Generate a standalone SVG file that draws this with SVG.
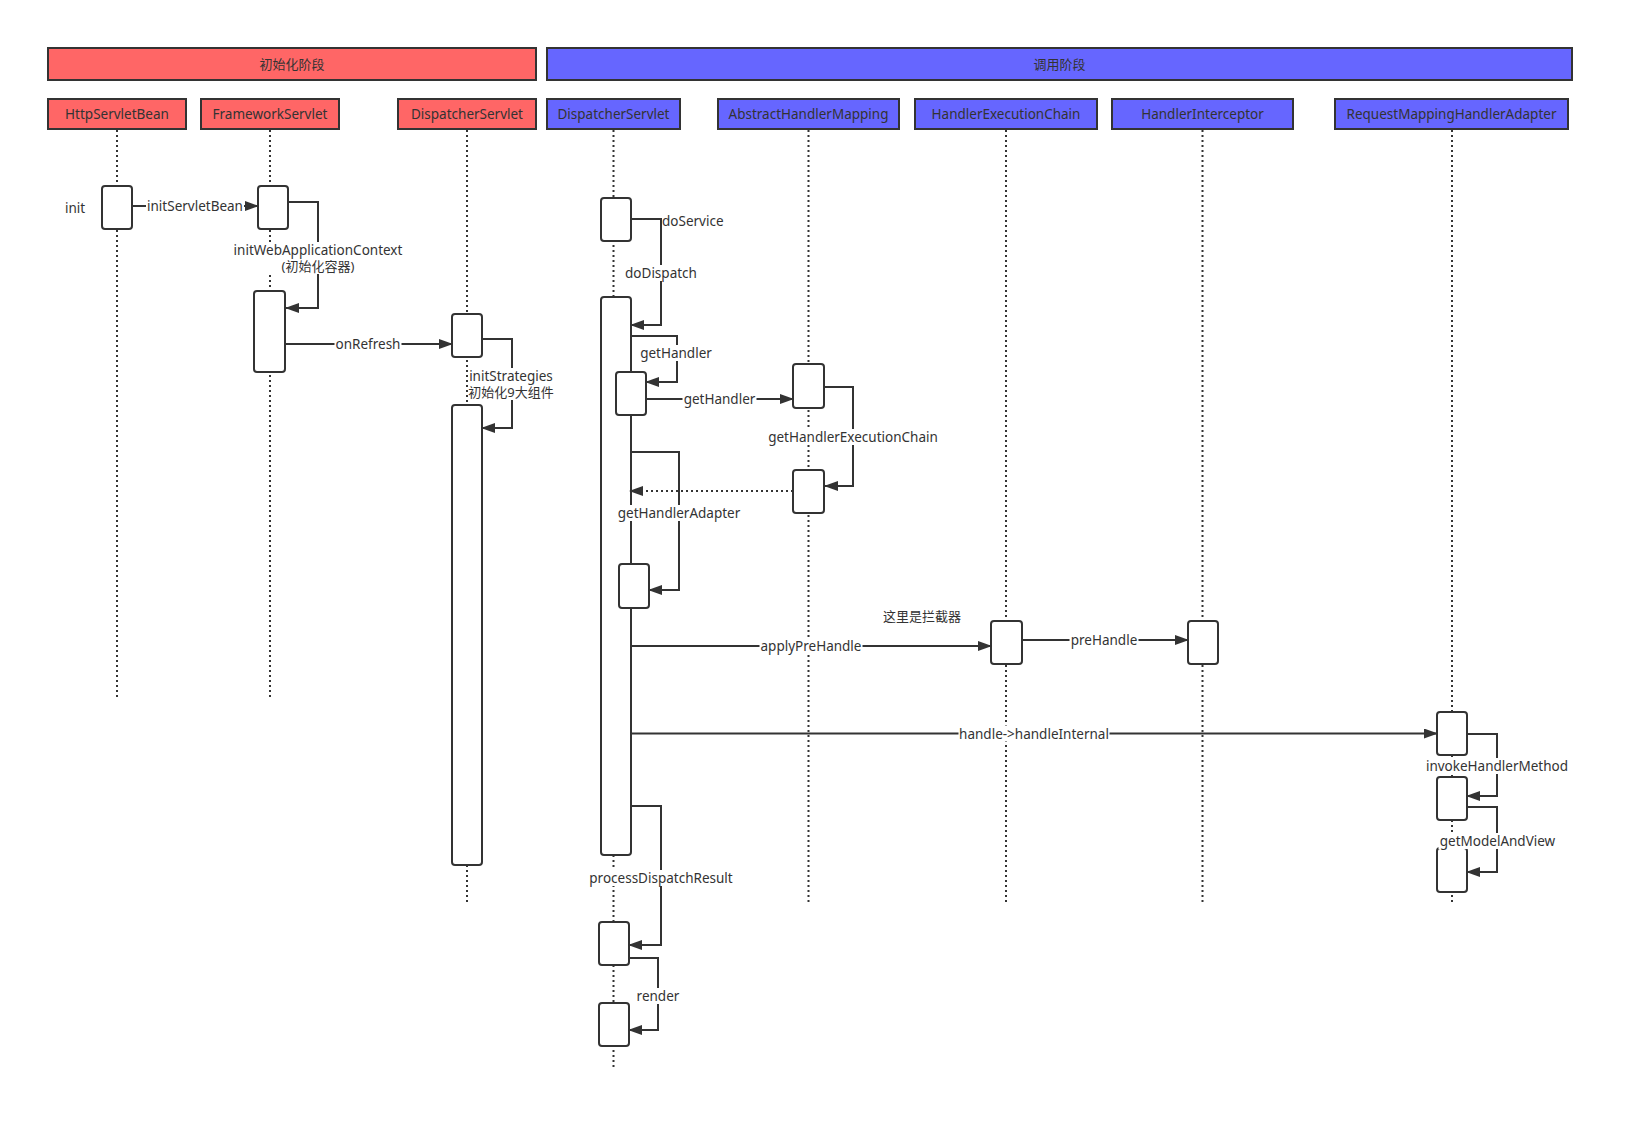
<svg xmlns="http://www.w3.org/2000/svg" width="1634" height="1136" viewBox="0 0 1634 1136">
<style>
  text { font-family: "Noto Sans", "Noto Sans CJK SC", sans-serif; font-size: 13.5px; fill: #333333; dominant-baseline: central; }
  .cjk { font-size: 13px; }
  .c { text-anchor: middle; }
  .bg { fill: #ffffff; stroke: none; }
  .phase-red { fill: #FF6666; stroke: #333333; stroke-width: 2; }
  .phase-blue { fill: #6666FF; stroke: #333333; stroke-width: 2; }
  .life { stroke: #333333; stroke-width: 2; stroke-dasharray: 2 3; fill: none; }
  .act { fill: #ffffff; stroke: #333333; stroke-width: 2; }
  .msg { fill: none; stroke: #333333; stroke-width: 2; marker-end: url(#arrow); }
  .ret { fill: none; stroke: #333333; stroke-width: 2; stroke-dasharray: 2 3; marker-end: url(#arrow); }
</style>
<defs>
  <marker id="arrow" viewBox="0 0 14 10" refX="13" refY="5" markerWidth="14" markerHeight="10" markerUnits="userSpaceOnUse" orient="auto">
    <path d="M0,0 L14,5 L0,10 z" fill="#333333"/>
  </marker>
</defs>
<rect width="1634" height="1136" fill="#ffffff"/>

<g id="phase-init"><rect class="phase-red" x="48" y="48" width="488" height="32"/><text class="c cjk" x="292" y="64">初始化阶段</text></g>
<g id="phase-call"><rect class="phase-blue" x="547" y="48" width="1025" height="32"/><text class="c cjk" x="1059.5" y="64">调用阶段</text></g>

<g id="lifelines">
  <line class="life" x1="117" y1="130" x2="117" y2="700"/>
  <line class="life" x1="270" y1="130" x2="270" y2="700"/>
  <line class="life" x1="467" y1="130" x2="467" y2="905"/>
  <line class="life" x1="613.5" y1="130" x2="613.5" y2="1070"/>
  <line class="life" x1="808.5" y1="130" x2="808.5" y2="905"/>
  <line class="life" x1="1006" y1="130" x2="1006" y2="905"/>
  <line class="life" x1="1202.5" y1="130" x2="1202.5" y2="905"/>
  <line class="life" x1="1452" y1="130" x2="1452" y2="905"/>
</g>

<g id="node-HttpServletBean"><rect class="phase-red" x="48" y="99" width="138" height="30"/><text class="c" x="117" y="114">HttpServletBean</text></g>
<g id="node-FrameworkServlet"><rect class="phase-red" x="201" y="99" width="138" height="30"/><text class="c" x="270" y="114">FrameworkServlet</text></g>
<g id="node-DispatcherServlet-init"><rect class="phase-red" x="398" y="99" width="138" height="30"/><text class="c" x="467" y="114">DispatcherServlet</text></g>
<g id="node-DispatcherServlet"><rect class="phase-blue" x="547" y="99" width="133" height="30"/><text class="c" x="613.5" y="114">DispatcherServlet</text></g>
<g id="node-AbstractHandlerMapping"><rect class="phase-blue" x="718" y="99" width="181" height="30"/><text class="c" x="808.5" y="114">AbstractHandlerMapping</text></g>
<g id="node-HandlerExecutionChain"><rect class="phase-blue" x="915" y="99" width="182" height="30"/><text class="c" x="1006" y="114">HandlerExecutionChain</text></g>
<g id="node-HandlerInterceptor"><rect class="phase-blue" x="1112" y="99" width="181" height="30"/><text class="c" x="1202.5" y="114">HandlerInterceptor</text></g>
<g id="node-RequestMappingHandlerAdapter"><rect class="phase-blue" x="1335" y="99" width="233" height="30"/><text class="c" x="1451.5" y="114">RequestMappingHandlerAdapter</text></g>

<g id="activations">
  <rect class="act" x="102" y="186" width="30" height="43" rx="3"/>
  <rect class="act" x="258" y="186" width="30" height="43" rx="3"/>
  <rect class="act" x="254" y="291" width="31" height="81" rx="3"/>
  <rect class="act" x="452" y="314" width="30" height="43" rx="3"/>
  <rect class="act" x="452" y="405" width="30" height="460" rx="3"/>
  <rect class="act" x="601" y="198" width="30" height="43" rx="3"/>
  <rect class="act" x="601" y="297" width="30" height="558" rx="3"/>
  <rect class="act" x="616" y="372" width="30" height="43" rx="3"/>
  <rect class="act" x="619" y="564" width="30" height="44" rx="3"/>
  <rect class="act" x="599" y="922" width="30" height="43" rx="3"/>
  <rect class="act" x="599" y="1003" width="30" height="43" rx="3"/>
  <rect class="act" x="793" y="364" width="31" height="44" rx="3"/>
  <rect class="act" x="793" y="470" width="31" height="43" rx="3"/>
  <rect class="act" x="991" y="621" width="31" height="43" rx="3"/>
  <rect class="act" x="1188" y="621" width="30" height="43" rx="3"/>
  <rect class="act" x="1437" y="712" width="30" height="43" rx="3"/>
  <rect class="act" x="1437" y="777" width="30" height="43" rx="3"/>
  <rect class="act" x="1437" y="848" width="30" height="44" rx="3"/>
</g>

<g id="connectors">
  <path class="msg" d="M132,206 L258,206"/>
  <path class="msg" d="M288,202 L318,202 L318,308 L286,308"/>
  <path class="msg" d="M286,344 L452,344"/>
  <path class="msg" d="M482,339 L512,339 L512,428 L482,428"/>
  <path class="msg" d="M631,219 L661,219 L661,325 L631,325"/>
  <path class="msg" d="M631,336 L677,336 L677,382 L646,382"/>
  <path class="msg" d="M646,399 L793,399"/>
  <path class="msg" d="M824,387 L853,387 L853,486 L825,486"/>
  <path class="ret" d="M793,491 L630,491"/>
  <path class="msg" d="M631,452 L679,452 L679,590 L649,590"/>
  <path class="msg" d="M631,646 L991,646"/>
  <path class="msg" d="M1022,640 L1188,640"/>
  <path class="msg" d="M631,733.5 L1437,733.5"/>
  <path class="msg" d="M1467,734 L1497,734 L1497,796 L1467,796"/>
  <path class="msg" d="M1467,807 L1497,807 L1497,872 L1467,872"/>
  <path class="msg" d="M631,806 L661,806 L661,945 L629,945"/>
  <path class="msg" d="M629,958 L658,958 L658,1030 L629,1030"/>
</g>

<g id="labels">
  <text x="65" y="208">init</text>
  <rect class="bg" x="146" y="198" width="98" height="16"/>
  <text class="c" x="195" y="206">initServletBean</text>
  <rect class="bg" x="232.5" y="242" width="171" height="32"/>
  <text class="c" x="318" y="250">initWebApplicationContext</text>
  <text class="c cjk" x="318" y="266">(初始化容器)</text>
  <rect class="bg" x="334.5" y="336" width="67" height="16"/>
  <text class="c" x="368" y="344">onRefresh</text>
  <rect class="bg" x="468.5" y="368" width="86" height="32"/>
  <text class="c" x="511" y="376">initStrategies</text>
  <text class="c cjk" x="511" y="392">初始化9大组件</text>
  <text x="662" y="221">doService</text>
  <rect class="bg" x="624" y="265" width="74" height="16"/>
  <text class="c" x="661" y="273">doDispatch</text>
  <rect class="bg" x="639" y="345" width="74" height="16"/>
  <text class="c" x="676" y="353">getHandler</text>
  <rect class="bg" x="682.5" y="391" width="74" height="16"/>
  <text class="c" x="719.5" y="399">getHandler</text>
  <rect class="bg" x="767" y="429" width="172" height="16"/>
  <text class="c" x="853" y="437">getHandlerExecutionChain</text>
  <rect class="bg" x="617" y="505" width="124" height="16"/>
  <text class="c" x="679" y="513">getHandlerAdapter</text>
  <text class="c cjk" x="922" y="616">这里是拦截器</text>
  <rect class="bg" x="759.5" y="638" width="103" height="16"/>
  <text class="c" x="811" y="646">applyPreHandle</text>
  <rect class="bg" x="1069.5" y="632" width="69" height="16"/>
  <text class="c" x="1104" y="640">preHandle</text>
  <rect class="bg" x="958.5" y="725.5" width="151" height="16"/>
  <text class="c" x="1034" y="733.5">handle-&gt;handleInternal</text>
  <rect class="bg" x="1425" y="758" width="144" height="16"/>
  <text class="c" x="1497" y="766">invokeHandlerMethod</text>
  <rect class="bg" x="1438.5" y="833" width="118" height="16"/>
  <text class="c" x="1497.5" y="841">getModelAndView</text>
  <rect class="bg" x="588" y="870" width="146" height="16"/>
  <text class="c" x="661" y="878">processDispatchResult</text>
  <rect class="bg" x="635.5" y="988" width="45" height="16"/>
  <text class="c" x="658" y="996">render</text>
</g>
</svg>
